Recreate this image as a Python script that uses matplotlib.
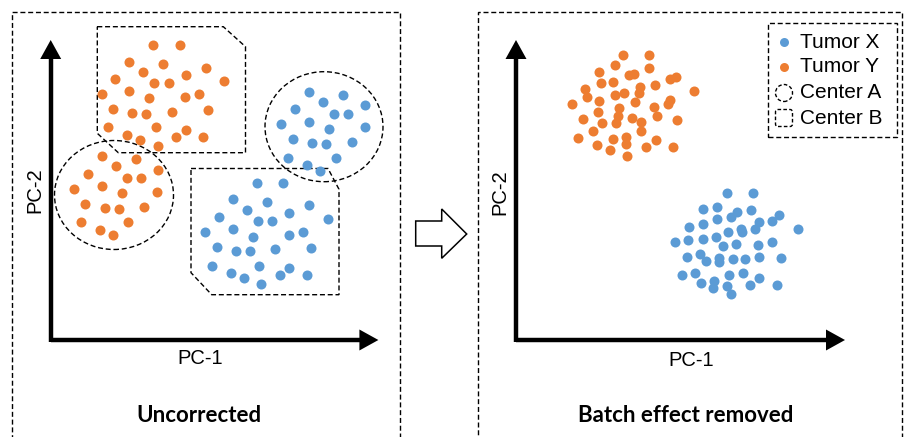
import matplotlib
matplotlib.use("Agg")
import matplotlib.pyplot as plt
from matplotlib.patches import Rectangle, Ellipse, Polygon, FancyBboxPatch

plt.rcParams['font.family'] = ['Liberation Sans', 'DejaVu Sans']

BLUE = "#5B9BD5"
ORANGE = "#ED7D31"

# ---------------- data (PC-1, PC-2 in arbitrary units) ----------------
# Uncorrected: Tumor Y from Center B
unc_y_b_pc1 = [102.7, 129.3, 78.7, 112.7, 155.3, 92.7, 135.0, 64.3, 103.7, 118.0, 173.3, 51.0,
               78.3, 98.3, 134.3, 148.7, 62.0, 81.7, 95.3, 121.0, 157.0, 57.0, 105.0, 135.0,
               76.3, 89.3, 125.3, 152.7, 107.3]
unc_y_b_pc2 = [295.0, 295.0, 278.3, 275.7, 272.3, 268.3, 265.0, 260.7, 256.7, 256.7, 259.0, 246.0,
               249.0, 241.7, 242.7, 245.7, 231.3, 227.3, 226.0, 228.3, 230.0, 212.7, 212.7, 210.0,
               205.0, 200.0, 203.3, 203.3, 194.0]
# Uncorrected: Tumor Y from Center A
unc_y_a_pc1 = [51.7, 85.3, 65.3, 107.3, 37.0, 76.0, 90.7, 51.0, 23.3, 71.0, 106.7, 34.7,
               54.3, 68.0, 93.7, 30.0, 77.7, 49.3, 62.3]
unc_y_a_pc2 = [184.0, 180.7, 174.0, 170.0, 166.0, 161.7, 161.7, 154.0, 151.0, 146.7, 148.0, 136.3,
               132.3, 131.3, 133.3, 117.7, 117.7, 110.0, 105.3]
# Uncorrected: Tumor X from Center A
unc_x_a_pc1 = [258.7, 292.7, 272.7, 244.3, 314.3, 283.3, 297.7, 230.3, 258.3, 278.3, 314.0, 242.0,
               261.3, 275.3, 301.0, 237.0, 285.0, 256.0, 269.3]
unc_x_a_pc2 = [248.3, 245.0, 238.3, 230.7, 234.7, 226.0, 226.0, 215.7, 218.3, 211.3, 212.7, 200.7,
               196.7, 196.0, 198.0, 182.3, 182.3, 174.7, 169.3]
# Uncorrected: Tumor X from Center B
unc_x_b_pc1 = [206.3, 232.7, 182.7, 216.3, 196.3, 258.7, 238.3, 168.3, 207.0, 221.7, 277.3, 154.3,
               182.3, 202.3, 238.0, 252.3, 166.0, 185.0, 199.0, 224.7, 260.7, 161.0, 208.7, 180.3,
               193.0, 238.7, 229.3, 256.7, 210.7]
unc_x_b_pc2 = [157.3, 157.3, 140.7, 137.7, 130.3, 134.7, 127.3, 122.7, 119.0, 119.0, 121.0, 108.3,
               111.0, 103.3, 105.0, 107.7, 93.0, 89.3, 88.7, 90.7, 92.0, 74.3, 74.3, 66.7,
               62.3, 72.3, 65.3, 65.3, 55.7]

# Batch effect removed: Tumor Y
cor_y_pc1 = [107.3, 133.3, 99.0, 133.0, 83.3, 113.3, 118.0, 154.0, 160.0, 85.0, 97.3, 124.0,
             139.0, 69.0, 70.7, 99.0, 108.0, 123.0, 178.0, 55.7, 83.0, 119.0, 154.0, 152.3,
             138.3, 103.3, 82.3, 101.7, 141.3, 115.7, 66.7, 86.3, 100.0, 125.0, 161.3, 77.3,
             125.0, 62.3, 96.7, 109.7, 139.7, 81.3, 110.0, 130.0, 157.3, 94.0, 111.3]
cor_y_pc2 = [285.0, 285.0, 275.0, 271.7, 268.3, 265.0, 266.0, 261.0, 262.7, 257.3, 258.3, 253.3,
             255.0, 250.7, 242.7, 245.0, 246.7, 247.3, 249.0, 236.0, 239.0, 237.7, 240.0, 235.7,
             233.3, 231.7, 227.7, 224.0, 224.0, 222.3, 221.0, 217.3, 216.7, 218.3, 220.0, 209.3,
             209.0, 202.3, 201.0, 202.7, 200.0, 194.7, 196.0, 193.3, 193.3, 190.0, 184.0]
# Batch effect removed: Tumor X
cor_x_pc1 = [210.7, 237.3, 187.3, 200.7, 234.7, 220.7, 214.7, 263.3, 256.3, 200.7, 243.3, 173.0,
             186.7, 211.7, 225.0, 226.3, 239.0, 281.7, 159.0, 172.3, 186.7, 200.0, 206.7, 220.0,
             242.3, 256.3, 170.7, 184.0, 189.7, 203.3, 203.3, 217.3, 229.0, 243.3, 265.0, 165.7,
             179.0, 213.3, 227.3, 243.0, 184.7, 198.3, 197.3, 211.3, 234.0, 261.0, 215.0]
cor_x_pc2 = [146.7, 146.7, 130.7, 133.3, 130.0, 127.7, 123.3, 125.0, 119.3, 120.7, 117.7, 113.3,
             115.7, 108.3, 111.3, 108.0, 110.7, 111.0, 98.3, 100.0, 101.0, 103.3, 94.0, 96.0,
             95.0, 97.7, 83.3, 86.0, 79.3, 82.0, 77.7, 80.7, 80.7, 82.7, 81.7, 65.0,
             67.3, 65.0, 66.7, 62.3, 56.7, 59.3, 51.7, 54.0, 55.0, 55.0, 45.7]

legend_labels = ["Tumor X", "Tumor Y", "Center A", "Center B"]
panel_titles = ["Uncorrected", "Batch effect removed"]

# ---------------- figure ----------------
fig = plt.figure(figsize=(9.06, 4.37), dpi=100)
axL = fig.add_axes([0, 0, 0.5, 1])
axR = fig.add_axes([0.5, 0, 0.5, 1])
axL.set_xlim(-50.7, 402.3)
axR.set_xlim(-63, 390)
for ax in (axL, axR):
    ax.set_ylim(-97, 340)
    ax.axis("off")
    ax.patch.set_alpha(0)

DASH = (0, (3.6, 2.0))
DOT_S = 52


def draw_axes_arrows(ax, xtip, ytip):
    ax.plot([0, xtip - 18], [0, 0], color="black", lw=3.2, solid_capstyle="butt", zorder=3)
    ax.plot([0, 0], [-2.3, ytip - 18], color="black", lw=3.2, solid_capstyle="butt", zorder=3)
    ax.add_patch(Polygon([[xtip, 0], [xtip - 19, 10.5], [xtip - 19, -10.5]],
                         closed=True, color="black", lw=0, zorder=3))
    ax.add_patch(Polygon([[0, ytip], [-10.5, ytip - 19], [10.5, ytip - 19]],
                         closed=True, color="black", lw=0, zorder=3))


# ---------- left panel ----------
axL.add_patch(Rectangle((-38.7, -130), 388, 458, fill=False, ec="black", lw=1.0, ls=DASH))
draw_axes_arrows(axL, 327.7, 300)
axL.add_patch(Polygon([[46.6, 313.3], [172.6, 313.3], [194.8, 293.3], [194.8, 187.3],
                       [67.6, 187.3], [46.6, 206.7]], closed=True, fill=False,
                      ec="black", lw=1.0, ls=DASH, zorder=2))
axL.add_patch(Polygon([[140.3, 171.5], [277.3, 171.5], [288.3, 150.7], [288.3, 45.3],
                       [161.0, 45.3], [140.3, 67.3]], closed=True, fill=False,
                      ec="black", lw=1.0, ls=DASH, zorder=2))
axL.add_patch(Ellipse((63.3, 145), 119, 109, fill=False, ec="black", lw=1.0, ls=DASH, zorder=2))
axL.add_patch(Ellipse((273.3, 213.3), 118, 110, fill=False, ec="black", lw=1.0, ls=DASH, zorder=2))
axL.scatter(unc_y_b_pc1, unc_y_b_pc2, s=DOT_S, color=ORANGE, lw=0, zorder=4)
axL.scatter(unc_y_a_pc1, unc_y_a_pc2, s=DOT_S, color=ORANGE, lw=0, zorder=4)
axL.scatter(unc_x_a_pc1, unc_x_a_pc2, s=DOT_S, color=BLUE, lw=0, zorder=4)
axL.scatter(unc_x_b_pc1, unc_x_b_pc2, s=DOT_S, color=BLUE, lw=0, zorder=4)
axL.text(149.3, -19, "PC-1", fontsize=14.5, ha="center", va="center")
axL.text(-15.7, 150, "PC-2", fontsize=14.5, ha="center", va="center", rotation=90)
axL.text(148.3, -75, panel_titles[0], fontsize=16, ha="center", va="center",
         fontweight="bold", family=["Lato", "DejaVu Sans"])

# hollow arrow between panels
axL.add_patch(Polygon([[365, 119], [391, 119], [391, 131], [416, 106], [391, 81.7],
                       [391, 94], [365, 94]], closed=True, fc="white", ec="black",
                      lw=1.1, clip_on=False, zorder=5))

# ---------- right panel ----------
axR.add_patch(Rectangle((-38.3, -130), 424, 458.3, fill=False, ec="black", lw=1.0, ls=DASH))
draw_axes_arrows(axR, 329, 300)
axR.scatter(cor_y_pc1, cor_y_pc2, s=DOT_S, color=ORANGE, lw=0, zorder=4)
axR.scatter(cor_x_pc1, cor_x_pc2, s=DOT_S, color=BLUE, lw=0, zorder=4)
axR.text(175, -21, "PC-1", fontsize=14.5, ha="center", va="center")
axR.text(-16, 148, "PC-2", fontsize=14.5, ha="center", va="center", rotation=90)
axR.text(170, -75, panel_titles[1], fontsize=16, ha="center", va="center",
         fontweight="bold", family=["Lato", "DejaVu Sans"])

# legend (drawn manually)
axR.add_patch(Rectangle((252, 203), 129, 114, fill=False, ec="black", lw=1.0, ls=DASH))
leg_y = [298, 273, 247, 222]
axR.scatter([268], [leg_y[0]], s=42, color=BLUE, lw=0, zorder=4)
axR.scatter([268], [leg_y[1]], s=42, color=ORANGE, lw=0, zorder=4)
axR.add_patch(Ellipse((268, leg_y[2]), 17, 17, fill=False, ec="black", lw=1.0,
                      ls=(0, (2.6, 1.6))))
axR.add_patch(FancyBboxPatch((262, leg_y[3] - 6), 12, 12, boxstyle="round,pad=2.5",
                             fill=False, ec="black", lw=1.0, ls=(0, (2.6, 1.6))))
for yy, lab in zip(leg_y, legend_labels):
    axR.text(284, yy, lab, fontsize=15, ha="left", va="center")

fig.savefig("out.png", dpi=100)
